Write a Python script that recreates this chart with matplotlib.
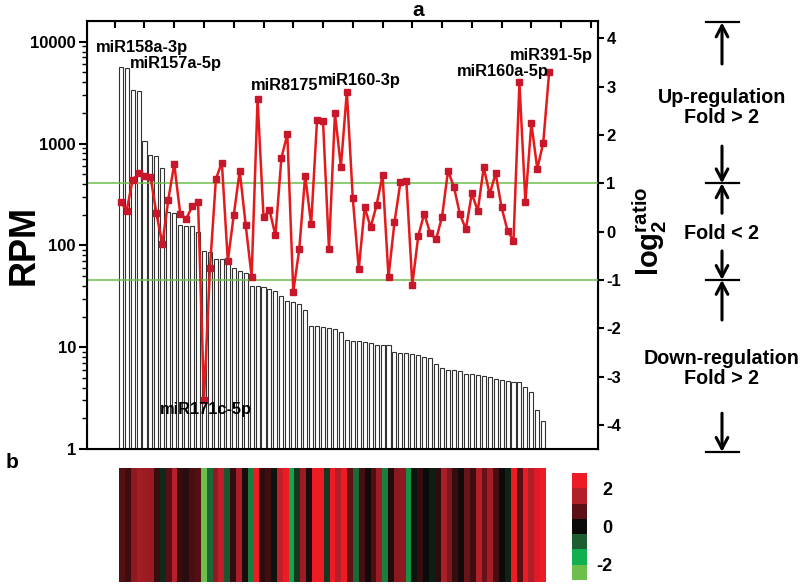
import numpy as np
import matplotlib
matplotlib.use("Agg")
import matplotlib.pyplot as plt
from matplotlib.colors import ListedColormap, LinearSegmentedColormap, BoundaryNorm
from matplotlib.cm import ScalarMappable
from matplotlib.ticker import FuncFormatter, NullFormatter, LogLocator
from matplotlib.transforms import blended_transform_factory

plt.rcParams['font.family'] = ['Liberation Sans', 'DejaVu Sans']
plt.rcParams['font.weight'] = 'bold'
plt.rcParams['axes.unicode_minus'] = False
plt.rcParams['mathtext.fontset'] = 'custom'
plt.rcParams['mathtext.bf'] = 'Liberation Sans:bold'
plt.rcParams['mathtext.rm'] = 'Liberation Sans:bold'

# RPM of each miRNA (bars), sorted by abundance
rpm = [5690, 5560, 3360, 3280, 1070, 774, 757, 573, 211, 208,
       160, 156, 154, 136, 87, 86, 74, 73.5, 71, 60,
       55.6, 53.6, 40.3, 39.6, 39, 37.3, 35.4, 32.1, 28.3, 27.6,
       26.8, 23.4, 16.3, 16.1, 15.8, 15.5, 15.1, 14.0, 11.7, 11.6,
       11.5, 11.2, 11.0, 10.6, 10.4, 10.4, 8.9, 8.8, 8.7, 8.5,
       8.3, 8.0, 7.9, 6.8, 6.3, 6.0, 5.95, 5.8, 5.5, 5.4,
       5.3, 5.2, 5.1, 4.9, 4.8, 4.7, 4.6, 4.5, 4.05, 3.6, 2.4, 1.9]

# log2 ratio (red line and heatmap)
ratio = [0.62, 0.43, 1.07, 1.21, 1.16, 1.14, 0.38, -0.26, 0.66, 1.40,
         0.37, 0.26, 0.52, 0.62, -3.48, -0.76, 1.09, 1.43, -0.61, 0.34,
         1.26, 0.14, -0.93, 2.74, 0.30, 0.45, -0.08, 1.52, 2.02, -1.24,
         -0.37, 1.16, 0.15, 2.32, 2.28, -0.37, 2.45, 1.34, 2.90, 0.69,
         -0.78, 0.50, 0.09, 0.55, 1.17, -0.94, 0.19, 1.02, 1.05, -1.10,
         -0.09, 0.37, -0.03, -0.16, 0.31, 1.26, 0.92, 0.36, 0.05, 0.79,
         0.43, 1.33, 0.77, 1.21, 0.50, 0.02, -0.19, 3.09, 0.61, 2.24,
         1.30, 1.84, 3.31]

# labelled miRNAs: (name, x, y on log2 axis)
labels = [("miR158a-3p", 4.6, 3.82), ("miR157a-5p", 10.3, 3.49),
          ("miR8175", 28.6, 3.03), ("miR160-3p", 41.1, 3.12),
          ("miR160a-5p", 65.2, 3.32), ("miR391-5p", 73.3, 3.65),
          ("miR171c-5p", 15.3, -3.69)]

heat_colors = ['#6cbf4a', '#10b050', '#1e5c32', '#0a0a0a',
               '#5a1014', '#b3202a', '#ed1c24']

W, H = 800, 587
fig = plt.figure(figsize=(W / 100, H / 100), dpi=100)

# ---- panel a ----
ax = fig.add_axes([87 / W, 1 - 449 / H, 511 / W, 428 / H])
x_bar = np.arange(1, len(rpm) + 1)
ax.bar(x_bar, rpm, width=0.68, color='white', edgecolor='#333333', linewidth=0.8)
ax.set_yscale('log')
ax.set_ylim(1, 15960)
ax.set_xlim(-4.66, 81.2)
ax.yaxis.set_major_locator(LogLocator(base=10, numticks=10))
ax.yaxis.set_major_formatter(FuncFormatter(lambda v, p: f'{v:g}'))
ax.yaxis.set_minor_formatter(NullFormatter())
ax.xaxis.set_ticks_position('top')
ax.set_xticks(np.arange(0, 81, 5))
ax.tick_params(axis='x', direction='in', length=5, width=1.5,
               labeltop=False, labelbottom=False)
ax.tick_params(axis='y', which='major', direction='out', length=6, width=1.5,
               labelsize=12, pad=2)
ax.tick_params(axis='y', which='minor', direction='out', length=3.5, width=1)
for s in ax.spines.values():
    s.set_linewidth(1.5)

ax2 = ax.twinx()
ax2.set_ylim(-4.5, 4.36)
ax2.set_yticks(range(-4, 5))
ax2.tick_params(axis='y', direction='out', length=4, width=1.5, labelsize=12, pad=2)
ax2.axhline(1, color='#6abf4b', lw=1.1)
ax2.axhline(-1, color='#6abf4b', lw=1.1)
x_pt = np.arange(1, len(ratio) + 1)
ax2.plot(x_pt, ratio, color='#e41a1c', lw=1.8, marker='s', markersize=3.8,
         markerfacecolor='#c8162a', markeredgecolor='#c8162a')
for name, lx, ly in labels:
    ax2.text(lx, ly, name, ha='center', va='center', fontsize=11.8)

fig.text(24 / W, 1 - 245 / H, 'RPM', rotation=90, ha='center', va='center',
         fontsize=26)
fig.text(650 / W, 1 - 231 / H, r'$\mathbf{log}_{\mathbf{2}}^{\mathbf{ratio}}$',
         rotation=90, ha='center', va='center', fontsize=21)
fig.text(418 / W, 1 - 10 / H, 'a', ha='center', va='center', fontsize=15)
fig.text(12 / W, 1 - 462 / H, 'b', ha='center', va='center', fontsize=15)

# ---- regulation guide on the right ----
tr = blended_transform_factory(fig.transFigure, ax2.transData)
xc = 722 / W
for v in [4.33, 1.0, -1.0, -4.56]:
    ax2.plot([706 / W, 739 / W], [v, v], transform=tr, clip_on=False,
             color='black', lw=1.6)
arrows = [(3.47, 4.33), (1.77, 1.0), (0.38, 1.0),
          (-0.40, -1.0), (-1.83, -1.0), (-3.76, -4.56)]
for tail, tip in arrows:
    ax2.annotate('', xy=(xc, tip), xytext=(xc, tail), xycoords=tr,
                 textcoords=tr, annotation_clip=False,
                 arrowprops=dict(arrowstyle='->,head_length=0.8,head_width=0.42',
                                 lw=2.2, color='black', shrinkA=0, shrinkB=0))
ax2.text(xc, 2.57, 'Up-regulation\nFold > 2', transform=tr, ha='center',
         va='center', fontsize=14.2, linespacing=1.05)
ax2.text(xc, -0.03, 'Fold < 2', transform=tr, ha='center', va='center',
         fontsize=14.2)
ax2.text(xc, -2.83, 'Down-regulation\nFold > 2', transform=tr, ha='center',
         va='center', fontsize=14.2, linespacing=1.05)

# ---- panel b: heatmap ----
hax = fig.add_axes([119 / W, 1 - 582 / H, 427 / W, 114 / H])
cmap_cont = LinearSegmentedColormap.from_list('gr', heat_colors)
hax.imshow(np.array(ratio)[None, :], aspect='auto', cmap=cmap_cont,
           vmin=-2, vmax=2, interpolation='nearest')
hax.set_axis_off()

cax = fig.add_axes([572 / W, 1 - 580 / H, 15 / W, 107 / H])
edges = np.linspace(-2.8, 2.8, 8)
sm = ScalarMappable(norm=BoundaryNorm(edges, 7), cmap=ListedColormap(heat_colors))
cb = fig.colorbar(sm, cax=cax, ticks=[-2, 0, 2])
cb.minorticks_off()
cb.outline.set_visible(False)
cax.tick_params(which='both', length=0, labelsize=13, pad=18)
for t in cax.get_yticklabels():
    t.set_ha('right')

fig.savefig('out.png', dpi=100)
